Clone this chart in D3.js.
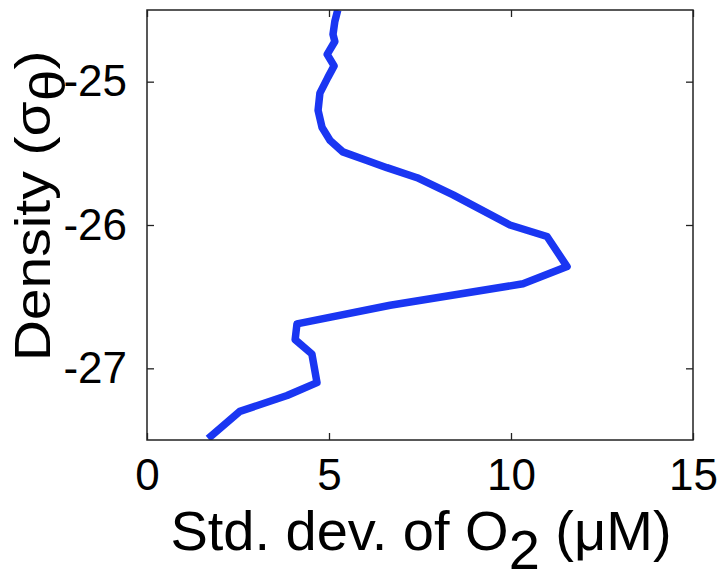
<!DOCTYPE html>
<html>
<head>
<meta charset="utf-8">
<script src="https://cdn.jsdelivr.net/npm/d3@7"></script>
<style>
  body { margin: 0; background: #fff; }
  text { font-family: "Liberation Sans", Arial, sans-serif; fill: #000; }
</style>
</head>
<body>
<script>
var width = 723,
    height = 581;

// std. dev. of O2 (uM) vs density (sigma-theta)
var stdO2 = [5.24, 5.16, 5.11, 5.16, 4.95, 5.14, 4.97, 4.75, 4.70, 4.81, 5.03, 5.38, 6.04, 6.59, 7.42, 8.41, 9.97, 10.99, 11.54, 10.33, 6.68, 4.12, 4.07, 4.53, 4.67, 3.85, 2.55, 1.68];
var density = [-24.50, -24.58, -24.67, -24.72, -24.81, -24.89, -24.97, -25.08, -25.20, -25.32, -25.41, -25.49, -25.55, -25.60, -25.67, -25.79, -26.00, -26.08, -26.29, -26.41, -26.56, -26.69, -26.80, -26.90, -27.10, -27.19, -27.30, -27.49];

var xTicks = [0, 5, 10, 15];
var yTicks = [-25, -26, -27];

var plotL = 147, plotR = 693, plotT = 10, plotB = 440;
var tickLen = 7;

var x = d3.scaleLinear().domain([0, 15]).range([plotL, plotR]);
var y = d3.scaleLinear().domain([-27.5, -24.5]).range([plotB, plotT]);

var svg = d3.select('body').append('svg').attr('width', width).attr('height', height);

svg.append('clipPath').attr('id', 'plotclip')
    .append('rect')
    .attr('x', plotL).attr('y', plotT)
    .attr('width', plotR - plotL).attr('height', plotB - plotT);

// line
var points = stdO2.map(function (v, i) { return [v, density[i]]; });
var line = d3.line()
    .x(function (d) { return x(d[0]); })
    .y(function (d) { return y(d[1]); });

svg.append('path')
    .datum(points)
    .attr('clip-path', 'url(#plotclip)')
    .attr('d', line)
    .attr('fill', 'none')
    .attr('stroke', '#1a36f2')
    .attr('stroke-width', 7.5)
    .attr('stroke-linejoin', 'round');

// axes (ticks inward, mirrored on top/right)
var axisB = d3.axisBottom(x).tickValues(xTicks).tickSizeInner(-tickLen).tickSizeOuter(0).tickPadding(19);
var axisT = d3.axisTop(x).tickValues(xTicks).tickSizeInner(-tickLen).tickSizeOuter(0).tickFormat('');
var axisL = d3.axisLeft(y).tickValues(yTicks).tickSizeInner(-tickLen).tickSizeOuter(0).tickPadding(20)
    .tickFormat(function (d) { return d; });
var axisR = d3.axisRight(y).tickValues(yTicks).tickSizeInner(-tickLen).tickSizeOuter(0).tickFormat('');

function styleAxis(g) {
    g.select('.domain').remove();
    g.selectAll('line').attr('stroke', '#222').attr('stroke-width', 1.3);
    g.selectAll('text').style('font-size', '44px').attr('fill', '#000');
}

svg.append('g').attr('transform', 'translate(0,' + plotB + ')').call(axisB).call(styleAxis);
svg.append('g').attr('transform', 'translate(0,' + plotT + ')').call(axisT).call(styleAxis);
svg.append('g').attr('transform', 'translate(' + plotL + ',0)').call(axisL).call(styleAxis);
svg.append('g').attr('transform', 'translate(' + plotR + ',0)').call(axisR).call(styleAxis);

// frame
svg.append('rect')
    .attr('x', plotL).attr('y', plotT)
    .attr('width', plotR - plotL).attr('height', plotB - plotT)
    .attr('fill', 'none')
    .attr('stroke', '#222')
    .attr('stroke-width', 1.5);

// x label
var xl = svg.append('text')
    .attr('x', (plotL + plotR) / 2 + 1)
    .attr('y', 550)
    .attr('text-anchor', 'middle')
    .style('font-size', '56px');
xl.append('tspan').text('Std. dev. of O');
xl.append('tspan').attr('dy', 19).text('2');
xl.append('tspan').attr('dy', -19).text(' (\u03BCM)');

// y label (stretched along its length like the source figure)
var yl = svg.append('text')
    .attr('transform', 'translate(50,206) rotate(-90) scale(1.14,1)')
    .attr('text-anchor', 'middle')
    .style('font-size', '50px');
yl.append('tspan').text('Density (\u03C3');
yl.append('tspan').attr('dy', 15).text('\u03B8');
yl.append('tspan').attr('dy', -15).text(')');
</script>
</body>
</html>
